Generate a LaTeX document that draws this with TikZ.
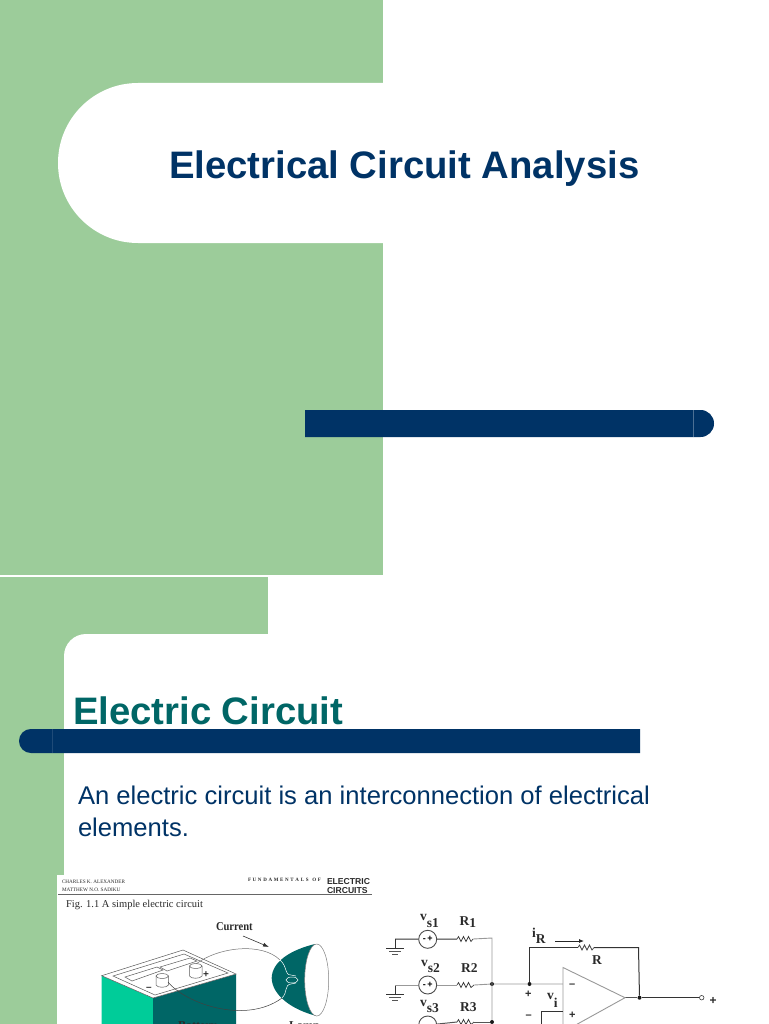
\documentclass[tikz,border=0pt]{standalone}
\usepackage{fontspec}
\setmainfont{Liberation Sans}
\newfontfamily\imgserif{Liberation Serif}
\usetikzlibrary{arrows.meta}
\definecolor{sage}{HTML}{9CCC9A}
\definecolor{navy}{HTML}{003366}
\definecolor{teal}{HTML}{006666}
\definecolor{mint}{HTML}{00CC99}
\definecolor{ink}{HTML}{2A2A2A}
\definecolor{wire}{HTML}{555555}
\newcommand{\lblfont}{\imgserif\bfseries\fontsize{13.5}{13.5}\selectfont}
\newcommand{\smallser}{\imgserif\fontsize{5.2}{5.2}\selectfont}
\tikzset{
  txt/.style={anchor=base west,inner sep=0pt,outer sep=0pt},
  imgtxt/.style={txt,text=ink,font=\lblfont},
  wiring/.style={draw=wire,line width=1pt},
  darkwire/.style={draw=black!80,line width=1pt},
  lightwire/.style={draw=black!40,line width=0.9pt},
  source/.style={circle,draw=black!70,line width=0.9pt,minimum size=18pt,inner sep=0pt,fill=white},
  junction/.style={circle,fill=black!90,minimum size=4pt,inner sep=0pt},
  outline/.style={draw=black!65,line width=0.5pt},
}
\begin{document}
\begin{tikzpicture}[x=1pt,y=-1pt]
\clip (0,0) rectangle (768,1024);
\fill[white] (0,0) rectangle (768,1024);
% ---- slide 1
\fill[sage] (0,0) rectangle (383,575);
\fill[white] (383,83) [rounded corners=79.9pt] -- (58,83) -- (58,243) [sharp corners] -- (383,243) -- cycle;
\fill[navy] (305,410) [rounded corners=13.4pt] -- (714,410) -- (714,437) [sharp corners] -- (305,437) -- cycle;
\draw[white!30!navy,line width=0.5pt] (693,410) -- (693,437);
\node[txt,text=navy,font=\bfseries\fontsize{38.3}{38.3}\selectfont] (title) at (169,178.5) {Electrical Circuit Analysis};
% ---- slide 2
\fill[white] (0,575) rectangle (768,1024);
\fill[sage] (0,577) rectangle (268,634);
\fill[sage] (0,577) rectangle (100,700);
\fill[sage] (0,577) rectangle (64,1024);
\fill[white] (64,720) [rounded corners=22pt] -- (64,634) -- (130,634) [sharp corners] -- (130,720) -- cycle;
\node[txt,text=teal,font=\bfseries\fontsize{38.3}{38.3}\selectfont] (heading) at (73,724) {Electric Circuit};
\fill[navy] (640,729) [rounded corners=11.9pt] -- (19,729) -- (19,753) [sharp corners] -- (640,753) -- cycle;
\draw[white!12!navy,line width=0.3pt] (52,729) -- (52,753);
\node[txt,text=navy,font=\fontsize{25.6}{32}\selectfont,align=left,anchor=north west] (body) at (78,785.5) {An electric circuit is an interconnection of electrical\\elements.};
% ---- embedded figure 1
\fill[white] (57,875) rectangle (372,1024);
\node[imgtxt,font=\smallser] (auth1) at (62,883) {CHARLES K. ALEXANDER};
\node[imgtxt,font=\smallser] (auth2) at (62,891) {MATTHEW N.O. SADIKU};
\node[imgtxt,font=\imgserif\bfseries\fontsize{5}{5}\selectfont] (fund) at (248,881) {F\,\,U\,\,N\,\,D\,\,A\,\,M\,\,E\,\,N\,\,T\,\,A\,\,L\,\,S\,\, \,O\,\,F};
\node[imgtxt,font=\bfseries\fontsize{8.6}{8.6}\selectfont] (el) at (327,884.5) {ELECTRIC};
\node[imgtxt,font=\bfseries\fontsize{8.6}{8.6}\selectfont] (ci) at (327,893) {CIRCUITS};
\coordinate (ruleL) at (58,894.5); \coordinate (ruleR) at (372,894.5);
\draw[black!60,line width=0.8pt] (ruleL) -- (ruleR);
\node[imgtxt,font=\imgserif\fontsize{10.5}{10.5}\selectfont] (figcap) at (66,907) {Fig. 1.1 A simple electric circuit};
\node[imgtxt,font=\imgserif\bfseries\fontsize{12}{12}\selectfont,xscale=0.88] (current) at (216,930) {Current};
\coordinate (curA) at (243,936); \coordinate (curB) at (269,947);
\draw[black!80,line width=0.6pt,-{Latex[length=6pt,width=4pt]}] (curA) -- (curB);
% battery
\fill[mint] (101.7,975.7) -- (153,998) -- (153,1030) -- (101.7,1030) -- cycle;
\fill[teal] (153,998) -- (236,974) -- (236,1030) -- (153,1030) -- cycle;
\draw[outline,fill=white] (101.7,975.7) -- (183,950) -- (236,974) -- (153,998) -- cycle;
\draw[outline] (113,976) -- (184,954) -- (228,973) -- (155,995) -- cycle;
\draw[outline] (125,977) -- (157,967) -- (163,970) -- (132,981) -- cycle;
\draw[outline] (160,967) -- (190,958) -- (197,961) -- (167,971) -- cycle;
% terminals
\draw[outline,fill=white] (156,976) -- (156,985) .. controls (157,988) and (167,988) .. (168.5,985) -- (168.5,976);
\draw[outline,fill=white] (162.2,976) ellipse[x radius=6.3,y radius=2.4];
\draw[outline,fill=white] (189.5,966) -- (189.5,976) .. controls (190.5,979) and (200.5,979) .. (202,976) -- (202,966);
\draw[outline,fill=white] (195.7,966) ellipse[x radius=6.3,y radius=2.4];
\node[imgtxt,font=\bfseries\fontsize{10}{10}\selectfont] (bplus) at (203,977) {+};
\node[imgtxt,font=\bfseries\fontsize{10}{10}\selectfont] (bminus) at (146,990) {–};
\node[imgtxt,font=\imgserif\bfseries\fontsize{12}{12}\selectfont] (battery) at (178,1029) {Battery};
\node[imgtxt,font=\imgserif\bfseries\fontsize{12}{12}\selectfont] (lamp) at (289,1029) {Lamp};
% lamp
\fill[teal] (315,944) .. controls (290,950) and (272,962) .. (271.7,978) .. controls (272,995) and (292,1010) .. (317,1016) -- (320,980) -- cycle;
\draw[draw=black!50,line width=0.5pt,fill=white] (316.7,980) ellipse[x radius=12,y radius=36];
\coordinate (wireP) at (196,964);
\coordinate (wireN) at (168,982);
\coordinate (lampT) at (280,960);
\coordinate (lampB) at (282,998);
\draw[draw=black!55,line width=0.5pt] (wireP) .. controls (218,947) and (262,942) .. (lampT);
\draw[draw=black!75,line width=0.5pt] (wireN) .. controls (185,1003) and (245,1025) .. (lampB);
\draw[white,line width=0.5pt] (lampT) .. controls (288,967) and (284,975) .. (291,975) -- (296,976);
\draw[white,line width=0.5pt] (lampB) .. controls (288,992) and (284,985) .. (291,984) -- (296,983);
\draw[white,line width=0.5pt] (292,980) ellipse[x radius=6,y radius=3];
% ---- embedded figure 2
\coordinate (g1) at (395,939);
\coordinate (g2) at (395,985);
\node[source] (s1) at (427.7,939.3) {\fontsize{9}{9}\selectfont\textbf{-\,+}};
\node[source] (s2) at (427.7,985) {\fontsize{9}{9}\selectfont\textbf{-\,+}};
\node[source] (s3) at (427.7,1025) {};
\coordinate (r1a) at (457,939); \coordinate (r1b) at (473,939);
\coordinate (r2a) at (457,985); \coordinate (r2b) at (474,985);
\coordinate (r3a) at (457,1022); \coordinate (r3b) at (474,1022);
\coordinate (busT) at (492,938);
\node[junction] (j1) at (492,984) {};
\node[junction] (j2) at (492,1022) {};
\node[junction] (j3) at (529.5,984) {};
\coordinate (fbUp) at (529.5,947.5);
\coordinate (fa) at (578,947.5); \coordinate (fb) at (594,947.5);
\coordinate (fbR) at (638.5,947.5);
\node[junction] (j4) at (639.5,997.7) {};
\node[circle,draw=black!75,line width=0.6pt,minimum size=4.5pt,inner sep=0pt,fill=white] (outp) at (701.7,997.7) {};
\coordinate (opTL) at (563,967.5); \coordinate (opBL) at (563,1032); \coordinate (opR) at (625,997.7);
\coordinate (inM) at (563,984);
\coordinate (inP) at (563,1011.7);
\coordinate (inPb) at (541,1011.7);
\coordinate (inPd) at (541,1030);
\foreach \g in {g1,g2} {
  \draw[darkwire] (\g) -- ++(0,9);
  \draw[darkwire] (\g) ++(-9,9) -- ++(18,0);
  \draw[wiring] (\g) ++(-6,12) -- ++(12,0);
  \draw[wiring] (\g) ++(-3,15) -- ++(6,0);
}
\draw[darkwire] (g1) -- (s1);
\draw[lightwire] (g2) -- (s2);
\draw[darkwire] (s1) -- (r1a);
\draw[lightwire] (s2) -- (r2a);
\draw[wiring] (s3) -- (r3a);
\foreach \a/\b in {r1a/r1b,r2a/r2b,r3a/r3b,fa/fb} {
  \draw[draw=black!75,line width=0.7pt] (\a) -- ++(1.5,-2.5) -- ++(2.5,5) -- ++(2.5,-5) -- ++(2.5,5) -- ++(2.5,-5) -- ++(2.5,5) -- (\b);
}
\draw[lightwire] (r1b) -- (busT) -- (j2);
\draw[lightwire] (r2b) -- (j1) -- (j3) -- (inM);
\draw[wiring] (r3b) -- (j2);
\draw[darkwire] (j3) -- (fbUp) -- (fa);
\draw[darkwire] (fb) -- (fbR) -- (j4);
\draw[darkwire] (j4) -- (outp);
\draw[wiring] (opR) -- (j4);
\draw[lightwire,fill=white] (opTL) -- (opR) -- (opBL) -- cycle;
\draw[darkwire] (inP) -- (inPb) -- (inPd);
\coordinate (iaA) at (555,941); \coordinate (iaB) at (584,941);
\draw[black!85,line width=0.8pt,-{Latex[length=5pt,width=4pt]}] (iaA) -- (iaB);
% circuit labels
\node[imgtxt] (lv1) at (420,920) {v\raisebox{-7pt}{s1}};
\node[imgtxt] (lr1) at (459.5,925) {R\raisebox{-2pt}{1}};
\node[imgtxt] (lv2) at (421,966) {v\raisebox{-6pt}{s2}};
\node[imgtxt] (lr2) at (461,972.7) {R\raisebox{0pt}{2}};
\node[imgtxt] (lv3) at (420,1006) {v\raisebox{-6pt}{s3}};
\node[imgtxt] (lr3) at (460,1011.7) {R3};
\node[imgtxt] (lir) at (532,937) {i\raisebox{-6pt}{R}};
\node[imgtxt] (lR) at (592,964) {R};
\node[imgtxt] (lvi) at (547,999) {v\raisebox{-8pt}{i}};
\node[imgtxt,font=\bfseries\fontsize{11}{11}\selectfont] (lp1) at (525,997) {+};
\node[imgtxt,font=\bfseries\fontsize{11}{11}\selectfont] (lm1) at (525.5,1018) {–};
\node[imgtxt,font=\bfseries\fontsize{11}{11}\selectfont] (lm2) at (569,987) {–};
\node[imgtxt,font=\bfseries\fontsize{11}{11}\selectfont] (lp2) at (569,1018) {+};
\node[imgtxt,font=\bfseries\fontsize{12}{12}\selectfont] (lp3) at (709.5,1004) {+};
\end{tikzpicture}
\end{document}
